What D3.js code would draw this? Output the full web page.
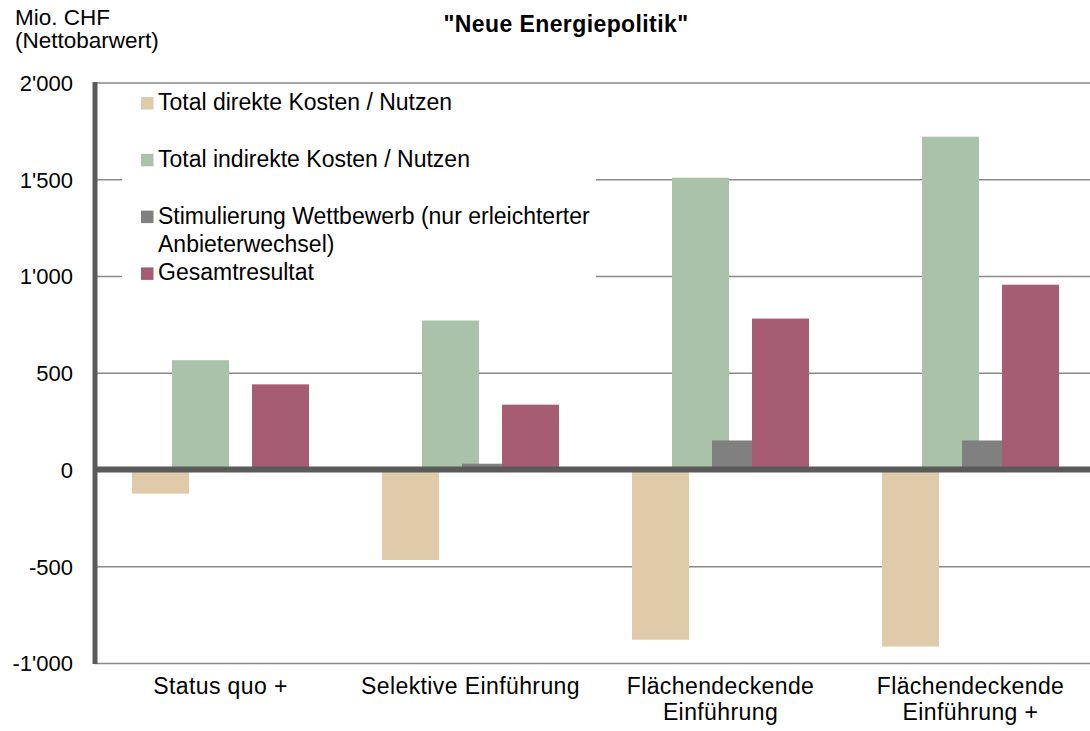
<!DOCTYPE html>
<html lang="de">
<head>
<meta charset="UTF-8">
<title>Neue Energiepolitik</title>
<script src="https://cdn.jsdelivr.net/npm/d3@7"></script>
<style>
    body { margin: 0; background: #fff; }
    svg { display: block; font-family: "Liberation Sans", Arial, sans-serif; }
    .tick text { font-size: 22px; fill: #000; }
    .cat .tick text { font-size: 23px; letter-spacing: 0.4px; }
</style>
</head>
<body>
<div id="chart"></div>
<script>
// --- data (Mio. CHF, Nettobarwert) ---
var categories = ["Status quo +", "Selektive Einführung", "Flächendeckende Einführung", "Flächendeckende Einführung +"];
var categoryLines = [["Status quo +"], ["Selektive Einführung"], ["Flächendeckende", "Einführung"], ["Flächendeckende", "Einführung +"]];
var seriesNames = ["Total direkte Kosten / Nutzen", "Total indirekte Kosten / Nutzen", "Stimulierung Wettbewerb (nur erleichterter Anbieterwechsel)", "Gesamtresultat"];
var direkt = [-125, -468, -880, -915];
var indirekt = [565, 770, 1508, 1720];
var stimulierung = [0, 30, 150, 150];
var gesamt = [440, 335, 780, 955];
var yTicks = [-1000, -500, 0, 500, 1000, 1500, 2000];

var colors = ["#dfcbaa", "#a9c2a9", "#808080", "#a65c72"];
var allSeries = [direkt, indirekt, stimulierung, gesamt];

var W = 1090, H = 731;
var svg = d3.select("#chart").append("svg")
    .attr("width", W)
    .attr("height", H);

var x0 = d3.scaleBand().domain(categories).range([95.5, 1095.5]).padding(0);
// bars overlap inside a group, so use a point scale for the centres
var x1 = d3.scalePoint().domain(seriesNames).range([-60, 60]);
var barW = 57;
var y = d3.scaleLinear().domain([-1000, 2000]).range([663, 82.5]);

var loc = d3.formatLocale({ decimal: ".", thousands: "'", grouping: [3], currency: ["", ""], minus: "-" });
var fmt = loc.format(",");

// gridlines
svg.append("g")
    .attr("transform", "translate(95,0)")
    .call(d3.axisRight(y).tickValues(yTicks.filter(function (v) { return v !== 0; })).tickSize(W - 95).tickFormat(""))
    .call(function (g) { g.select(".domain").remove(); })
    .selectAll("line")
    .attr("stroke", "#8a8a8a")
    .attr("stroke-width", 1.6);

// y labels
svg.append("g")
    .attr("transform", "translate(95,0)")
    .call(d3.axisLeft(y).tickValues(yTicks).tickSize(0).tickPadding(22).tickFormat(fmt))
    .call(function (g) { g.select(".domain").remove(); })
    .selectAll("text")
    .attr("dy", "0.36em");

// legend background hides gridlines behind it
svg.append("rect")
    .attr("x", 122).attr("y", 87)
    .attr("width", 474).attr("height", 204)
    .attr("fill", "#fff");

// bars
var rows = categories.map(function (c, i) {
    return seriesNames.map(function (s, j) { return { cat: c, key: s, value: allSeries[j][i], color: colors[j] }; });
});
svg.append("g").selectAll("g")
    .data(rows)
    .join("g")
    .attr("transform", function (d) { return "translate(" + (x0(d[0].cat) + x0.bandwidth() / 2) + ",0)"; })
    .selectAll("rect")
    .data(function (d) { return d; })
    .join("rect")
    .attr("x", function (d) { return x1(d.key) - barW / 2; })
    .attr("width", barW)
    .attr("y", function (d) { return y(Math.max(0, d.value)); })
    .attr("height", function (d) { return Math.abs(y(d.value) - y(0)); })
    .attr("fill", function (d) { return d.color; });

// zero line + left axis
svg.append("line")
    .attr("x1", 95).attr("x2", W)
    .attr("y1", y(0)).attr("y2", y(0))
    .attr("stroke", "#5a5a5a").attr("stroke-width", 6);
svg.append("line")
    .attr("x1", 95).attr("x2", 95)
    .attr("y1", y(2000) - 0.5).attr("y2", y(-1000) + 1)
    .attr("stroke", "#5a5a5a").attr("stroke-width", 5);

// category labels
var xAxis = svg.append("g")
    .attr("class", "cat")
    .attr("transform", "translate(0," + y(-1000) + ")")
    .call(d3.axisBottom(x0).tickSize(0).tickFormat(""));
xAxis.select(".domain").remove();
xAxis.selectAll(".tick text")
    .attr("y", 31).attr("dy", null)
    .each(function (d, i) {
        d3.select(this).selectAll("tspan")
            .data(categoryLines[i])
            .join("tspan")
            .attr("x", 0)
            .attr("dy", function (t, k) { return k ? 26 : 0; })
            .text(function (t) { return t; });
    });

// legend
var legendRows = [
    { lines: ["Total direkte Kosten / Nutzen"], slot: 0 },
    { lines: ["Total indirekte Kosten / Nutzen"], slot: 2 },
    { lines: ["Stimulierung Wettbewerb (nur erleichterter", "Anbieterwechsel)"], slot: 4 },
    { lines: ["Gesamtresultat"], slot: 6 }
];
var lg = svg.append("g").selectAll("g")
    .data(legendRows)
    .join("g")
    .attr("transform", function (d) { return "translate(141," + (110 + d.slot * 28.4) + ")"; });
lg.append("rect")
    .attr("x", 0).attr("y", -13)
    .attr("width", 12.5).attr("height", 12.5)
    .attr("fill", function (d, i) { return colors[i]; });
lg.append("text")
    .attr("font-size", 23)
    .selectAll("tspan")
    .data(function (d) { return d.lines; })
    .join("tspan")
    .attr("x", 17)
    .attr("y", function (t, k) { return k * 28.4; })
    .text(function (t) { return t; });

// titles
svg.append("text")
    .attr("x", 566).attr("y", 32)
    .attr("text-anchor", "middle")
    .attr("font-size", 23).attr("font-weight", "bold")
    .attr("letter-spacing", 0.4)
    .text("\"Neue Energiepolitik\"");
svg.append("text")
    .attr("x", 15).attr("y", 25)
    .attr("font-size", 22.5)
    .text("Mio. CHF");
svg.append("text")
    .attr("x", 15).attr("y", 48)
    .attr("font-size", 22.5)
    .text("(Nettobarwert)");
</script>
</body>
</html>
